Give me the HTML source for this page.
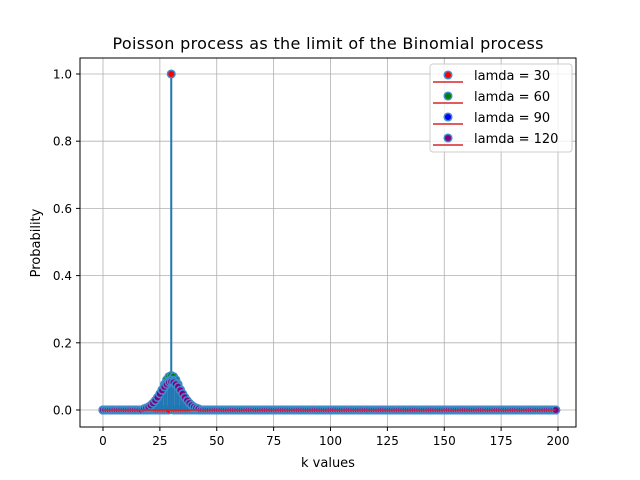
<!DOCTYPE html>
<html><head><meta charset="utf-8"><style>body{margin:0;background:#fff}svg{display:block;font-family:"DejaVu Sans","Liberation Sans",sans-serif}</style></head>
<body>
<svg id="chart" width="640" height="480">
<rect x="0" y="0" width="640" height="480" fill="#fff"/>
<g id="grid"></g><g id="plot"></g>
<rect x="80" y="58" width="496" height="369" fill="none" stroke="#000" stroke-width="1"/>
<g id="axes"></g>
<text x="328" y="49" font-size="16" text-anchor="middle" textLength="431">Poisson process as the limit of the Binomial process</text>
<text x="328" y="467" font-size="13" text-anchor="middle">k values</text>
<text x="40" y="243" font-size="13" text-anchor="middle" transform="rotate(-90 40 243)">Probability</text>
<g id="legend"></g>
</svg>
<script>
const xTicks=[0,25,50,75,100,125,150,175,200];
const yTicks=[0.0,0.2,0.4,0.6,0.8,1.0];
const seriesNames=["lamda = 30","lamda = 60","lamda = 90","lamda = 120"];
const seriesColors=["#ff0000","#008000","#0000ff","#800080"];
const kStart=18;
const s30 =[0,0,0,0,0,0,0,0,0,0,0,0,1,0,0,0,0,0,0,0,0,0,0,0,0];
const s60 =[0.0008,0.0018,0.0036,0.0069,0.0123,0.0203,0.0313,0.0450,0.0606,0.0764,0.0900,0.0993,0.1026,0.0993,0.0900,0.0764,0.0606,0.0450,0.0313,0.0203,0.0123,0.0069,0.0036,0.0018,0.0008];
const s90 =[0.0024,0.0043,0.0073,0.0118,0.0180,0.0262,0.0365,0.0477,0.0599,0.0713,0.0807,0.0870,0.0892,0.0870,0.0807,0.0713,0.0599,0.0477,0.0365,0.0262,0.0180,0.0118,0.0073,0.0043,0.0024];
const s120=[0.0034,0.0057,0.0090,0.0139,0.0203,0.0283,0.0375,0.0483,0.0587,0.0689,0.0765,0.0822,0.0840,0.0822,0.0765,0.0689,0.0587,0.0483,0.0375,0.0283,0.0203,0.0139,0.0090,0.0057,0.0034];
const allSeries=[s30,s60,s90,s120];
const nK=200;
const X=v=>103+v*(558-103)/200;
const Y=v=>410-v*336;
const NS="http://www.w3.org/2000/svg";
function mk(t,a,p){const e=document.createElementNS(NS,t);for(const k in a)e.setAttribute(k,a[k]);p.appendChild(e);return e;}
const grid=document.getElementById('grid'),axes=document.getElementById('axes'),plot=document.getElementById('plot'),leg=document.getElementById('legend');
xTicks.forEach(t=>{const x=X(t);
 const g=mk('line',{x1:x,x2:x,y1:58,y2:427,stroke:'#b0b0b0','stroke-width':0.8},grid);
 
 
 mk('line',{x1:x,x2:x,y1:427,y2:431,stroke:'#000'},axes);
 const tx=mk('text',{x:x,y:445,'font-size':12,'text-anchor':'middle'},axes);tx.textContent=t;
 
 });
yTicks.forEach(t=>{const y=Y(t);
 const g=mk('line',{x1:80,x2:576,y1:y,y2:y,stroke:'#b0b0b0','stroke-width':0.8},grid);
 
 
 mk('line',{x1:76,x2:80,y1:y,y2:y,stroke:'#000'},axes);
 const tx=mk('text',{x:72,y:y+4.5,'font-size':12,'text-anchor':'end'},axes);tx.textContent=t.toFixed(1);
 
 });
allSeries.forEach((s,si)=>{
 const g=mk('g',{},plot);
 
 
 const val=k=>(k>=kStart&&k<kStart+s.length)?s[k-kStart]:0;
 for(let k=0;k<nK;k++){mk('line',{x1:X(k),x2:X(k),y1:Y(0),y2:Y(val(k)),stroke:'#1f77b4','stroke-width':2},g);}
 for(let k=0;k<nK;k++){const c=mk('circle',{cx:X(k),cy:Y(val(k)),r:3.8,fill:seriesColors[si],stroke:'#3d8ccc','stroke-width':1.5},g);
  
  }
 mk('line',{x1:X(0),x2:X(nK-1),y1:Y(0),y2:Y(0),stroke:'#d62728','stroke-width':1.5},g);
});
mk('rect',{x:430,y:64,width:142,height:88,rx:3,fill:'#fff','fill-opacity':0.8,stroke:'#ccc'},leg);
seriesNames.forEach((n,i)=>{const y=75+i*21;
 const e=mk('g',{},leg);
 
 
 mk('line',{x1:433,x2:463,y1:y+7,y2:y+7,stroke:'#d62728','stroke-width':1.5},e);
 mk('circle',{cx:448,cy:y,r:3.8,fill:seriesColors[i],stroke:'#3d8ccc','stroke-width':1.5},e);
 const t=mk('text',{x:474,y:y+5,'font-size':13},e);t.textContent=n;});
</script>
</body></html>
